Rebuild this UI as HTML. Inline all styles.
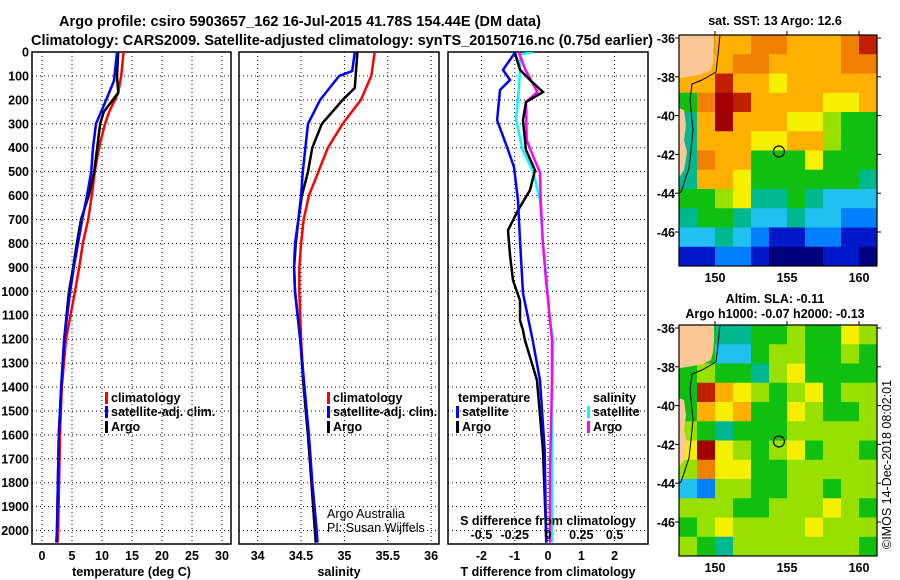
<!DOCTYPE html>
<html><head><meta charset="utf-8"><style>
body{margin:0;background:#fff;}
svg{display:block;font-family:"Liberation Sans",sans-serif;}
.t{font-weight:bold;font-size:12.5px;}
</style></head><body>
<svg id="c" width="900" height="580" viewBox="0 0 900 580">
<text x="300" y="26" text-anchor="middle" font-size="14.5" font-weight="bold" textLength="482">Argo profile: csiro 5903657_162 16-Jul-2015 41.78S 154.44E (DM data)</text>
<text x="342" y="45" text-anchor="middle" font-size="14.5" font-weight="bold" textLength="622">Climatology: CARS2009. Satellite-adjusted climatology: synTS_20150716.nc (0.75d earlier)</text>
</svg>
<script>
// ---- data ----
const depthTicks=[0,100,200,300,400,500,600,700,800,900,1000,1100,1200,1300,1400,1500,1600,1700,1800,1900,2000];
const tempTicks=[0,5,10,15,20,25,30];
const salTicks=[34,34.5,35,35.5,36];
const diffTTicks=[-2,-1,0,1,2];
const diffSTickLabels=["-0.5","-0.25","0","0.25","0.5"];
const diffSTicks=[-0.5,-0.25,0,0.25,0.5];

const tClimDepth=[0,100,170,250,300,400,500,600,700,800,900,1000,1200,1400,1600,2000,2050];
const tClim=[13.6,13.2,12.7,11.2,10.5,9.5,8.8,8.3,7.7,6.8,6.2,5.5,4.0,3.3,3.0,2.7,2.6];
const tArgoDepth=[0,100,170,200,250,300,400,500,600,700,800,900,1000,1200,1400,1600,2000,2050];
const tArgo=[12.7,12.5,12.7,11.8,10.3,9.7,9.2,8.7,7.8,6.5,5.8,5.2,4.5,3.7,3.2,2.8,2.5,2.4];
const tSatDepth=[0,120,200,300,400,500,600,700,800,900,1000,1200,1400,1600,2000,2050];
const tSat=[12.5,12.0,10.7,9.0,8.5,8.2,7.5,6.7,6.0,5.3,4.7,3.7,3.2,2.8,2.5,2.4];

const sClimDepth=[0,100,200,300,400,500,600,700,800,900,1000,1200,1400,1600,1800,2000,2050];
const sClim=[35.35,35.31,35.19,34.98,34.81,34.70,34.59,34.53,34.50,34.48,34.48,34.50,34.53,34.58,34.62,34.66,34.67];
const sArgoDepth=[0,150,200,300,400,500,600,700,800,900,1000,1200,1400,1600,1800,2000,2050];
const sArgo=[35.15,35.12,34.98,34.74,34.63,34.58,34.51,34.47,34.44,34.42,34.43,34.49,34.53,34.58,34.62,34.66,34.67];
const sSatDepth=[0,80,100,200,300,400,500,600,700,800,900,1000,1200,1400,1600,1800,2000,2050];
const sSat=[35.12,35.09,34.94,34.72,34.58,34.55,34.52,34.50,34.47,34.43,34.42,34.43,34.49,34.54,34.59,34.63,34.68,34.69];

const dTSatDepth=[4,75,117,159,285,397,481,619,787,1008,1205,1372,1665,2000,2050];
const dTSat=[-1.0,-1.35,-1.14,-1.44,-1.53,-1.23,-1.02,-0.9,-0.84,-0.75,-0.46,-0.24,-0.1,-0.06,-0.05];
const dTArgoDepth=[0,75,117,167,209,285,410,494,577,661,745,849,954,1038,1121,1163,1205,1372,1665,2000,2050];
const dTArgo=[-1.0,-0.84,-0.54,-0.15,-0.66,-0.75,-0.66,-0.39,-0.54,-0.9,-1.2,-1.14,-1.05,-0.84,-0.84,-0.75,-0.69,-0.33,-0.15,-0.06,-0.05];
const dSArgoDepth=[0,75,167,209,368,452,502,619,787,954,1121,1205,1372,1750,2050];
const dSArgo=[-0.22,-0.17,-0.08,-0.165,-0.16,-0.1,-0.06,-0.055,-0.04,-0.015,0.015,0.03,0.03,0.015,0.015];
const dSSatDepth=[0,10,75,159,285,410,502,619,787,954,1121,1205,1372,2050];
const dSSat=[-0.11,-0.21,-0.21,-0.22,-0.24,-0.19,-0.11,-0.06,-0.04,-0.01,0.015,0.04,0.03,0.03];

// map grids (colour index 0..11), rows north->south, cols west->east
const sstGrid=[
[8,9,8,8,9,9,8,8,8,9,10],
[8,8,8,9,9,8,8,8,8,9,9],
[8,8,10,8,8,7,8,8,8,8,8],
[5,9,11,10,8,8,8,8,7,7,8],
[4,8,11,8,8,8,7,7,6,5,5],
[4,8,8,8,7,7,8,8,6,5,5],
[4,9,8,8,5,5,5,7,5,5,5],
[4,8,8,7,5,5,5,5,5,5,4],
[5,5,6,7,4,4,5,4,3,3,3],
[4,5,5,4,3,3,4,3,3,2,2],
[3,3,4,3,2,1,1,2,2,1,1],
[1,1,2,2,1,0,0,0,1,1,0]];
const slaGrid=[
[5,5,4,4,5,5,6,5,5,7,6],
[5,5,3,3,5,6,6,5,5,6,5],
[5,6,5,5,4,6,7,5,5,5,5],
[5,10,8,7,6,5,6,7,5,6,6],
[5,8,7,8,5,5,7,6,5,5,6],
[6,5,4,5,5,5,6,6,6,6,6],
[7,11,7,6,5,6,7,5,6,6,5],
[6,9,7,7,5,5,6,6,6,6,6],
[3,2,6,6,5,5,6,6,5,6,6],
[6,6,6,5,5,6,6,6,7,6,5],
[5,6,7,6,6,6,6,7,6,6,6],
[6,5,4,6,6,6,6,6,6,6,5]];
const palette=["#00007f","#0018c8","#0080ff","#20c0f0","#00b890","#10c010","#98e000","#f4f000","#ffb000","#f08000","#c02000","#a00000"];
const latTicks=[-36,-38,-40,-42,-44,-46];
const lonTicks=[150,155,160];

// ---- drawing ----
const svg=document.getElementById('c');
const NS='http://www.w3.org/2000/svg';
function mk(tag,attrs,parent){const e=document.createElementNS(NS,tag);for(const k in attrs)e.setAttribute(k,attrs[k]);(parent||svg).appendChild(e);return e;}
const Y0=52,Y1=544;
const yD=d=>Y0+d*0.2393;
const xT=v=>42+6*v;
const xS=v=>257.7+86.7*(v-34);
const xDT=v=>548+33.3*v;
const xDS=v=>548+133.2*v;

function panel(name,x0,x1,vTicks,xf,labels,title){
  const g=mk('g',{});
  
  
  depthTicks.forEach(d=>{const l=mk('line',{x1:x0,x2:x1,y1:yD(d),y2:yD(d),stroke:'#000','stroke-width':1,'stroke-dasharray':'1,3'},g);
    
    });
  vTicks.forEach((v,i)=>{const X=xf(v);
    const l=mk('line',{x1:X,x2:X,y1:Y0,y2:Y1,stroke:'#000','stroke-width':1,'stroke-dasharray':'1,3'},g);
    
    
    if(labels){const t=mk('text',{x:X,y:560,'text-anchor':'middle',class:'t'},g);t.textContent=labels[i];
      
      }
  });
  const r=mk('rect',{x:x0,y:Y0,width:x1-x0,height:Y1-Y0,fill:'none',stroke:'#000','stroke-width':1.5},g);
  
  
  const t=mk('text',{x:(x0+x1)/2,y:576,'text-anchor':'middle',class:'t'},g);t.textContent=title;
  
  
  return g;
}
function line(g,name,depths,vals,xf,color,w){
  const pts=depths.map((d,i)=>xf(vals[i]).toFixed(1)+','+yD(d).toFixed(1)).join(' ');
  const p=mk('polyline',{points:pts,fill:'none',stroke:color,'stroke-width':w||2.5},g);
  
  
}
function clip(id,x0,x1){const c=mk('clipPath',{id:id});mk('rect',{x:x0,y:Y0,width:x1-x0,height:Y1-Y0},c);}
clip('c1',32,231);clip('c2',239,439);clip('c3',448,648);

depthTicks.forEach(d=>{const t=mk('text',{x:29,y:yD(d)+4.5,'text-anchor':'end',class:'t'});t.textContent=d;
  
  });

const g1=panel('temperature-panel',32,231,tempTicks,xT,tempTicks.map(String),'temperature (deg C)');
const l1=mk('g',{'clip-path':'url(#c1)'},g1);
line(l1,'temperature-climatology-line',tClimDepth,tClim,xT,'#f00');
line(l1,'temperature-argo-line',tArgoDepth,tArgo,xT,'#000');
line(l1,'temperature-satellite-line',tSatDepth,tSat,xT,'#00f');

const g2=panel('salinity-panel',239,439,salTicks,xS,salTicks.map(String),'salinity');
const l2=mk('g',{'clip-path':'url(#c2)'},g2);
line(l2,'salinity-climatology-line',sClimDepth,sClim,xS,'#f00');
line(l2,'salinity-argo-line',sArgoDepth,sArgo,xS,'#000');
line(l2,'salinity-satellite-line',sSatDepth,sSat,xS,'#00f');

const g3=panel('difference-panel',448,648,diffTTicks,xDT,diffTTicks.map(String),'T difference from climatology');
const l3=mk('g',{'clip-path':'url(#c3)'},g3);
line(l3,'s-diff-satellite-line',dSSatDepth,dSSat,xDS,'#0ff');
line(l3,'s-diff-argo-line',dSArgoDepth,dSArgo,xDS,'#f0f');
line(l3,'t-diff-argo-line',dTArgoDepth,dTArgo,xDT,'#000');
line(l3,'t-diff-satellite-line',dTSatDepth,dTSat,xDT,'#00f');
diffSTicks.forEach((v,i)=>{const t=mk('text',{x:xDS(v),y:539,'text-anchor':'middle',class:'t'},g3);t.textContent=diffSTickLabels[i];
  
  });
{const t=mk('text',{x:548,y:525,'text-anchor':'middle',class:'t'},g3);t.textContent='S difference from climatology';
 
 }

function legend(g,x,y,color,label){
  mk('rect',{x:x,y:y-10,width:3,height:12,fill:color},g);
  const t=mk('text',{x:x+6,y:y,class:'t'},g);t.textContent=label;
  
  
}
legend(g1,105,402,'#f00','climatology');legend(g1,105,416,'#00f','satellite-adj. clim.');legend(g1,105,431,'#000','Argo');
legend(g2,327,402,'#f00','climatology');legend(g2,327,416,'#00f','satellite-adj. clim.');legend(g2,327,431,'#000','Argo');
{const t=mk('text',{x:458,y:402,class:'t'},g3);t.textContent='temperature';}
legend(g3,456,416,'#00f','satellite');legend(g3,456,431,'#000','Argo');
{const t=mk('text',{x:593,y:402,class:'t'},g3);t.textContent='salinity';}
legend(g3,587,416,'#0ff','satellite');legend(g3,587,431,'#f0f','Argo');
{const t=mk('text',{x:327,y:518,'font-size':12.5},g2);t.textContent='Argo Australia';
 const u=mk('text',{x:327,y:532,'font-size':12.5},g2);u.textContent='PI: Susan Wijffels';}

// maps
const MX0=679,MX1=877;
const xLon=l=>715+14.4*(l-150);
function map(name,yOff,grid,titles){
  const g=mk('g',{});
  
  
  const my0=35+yOff,my1=266+yOff;
  const yLat=l=>38+yOff+19.4*(-36-l);
  const rows=grid.length,cols=grid[0].length,cw=(MX1-MX0)/cols,ch=(my1-my0)/rows;
  grid.forEach((row,r)=>row.forEach((v,c)=>{
    const cell=mk('rect',{x:MX0+c*cw,y:my0+r*ch,width:cw+0.5,height:ch+0.5,fill:palette[v]},g);
    
    
  }));
  const land=mk('polygon',{points:[[679,35],[714,35],[714,50],[713,62],[711,70],[703,74],[693,76],[680,78],[679,78]].map(p=>p[0]+','+(p[1]+yOff)).join(' '),fill:'#fcc896'},g);
  
  
  const tas=mk('polygon',{points:[[679,108],[684,110],[686,125],[684,140],[687,152],[684,170],[679,178]].map(p=>p[0]+','+(p[1]+yOff)).join(' '),fill:'#fcc896'},g);
  
  
  const coast=mk('polyline',{points:[[720,35],[718,55],[716,72],[702,80],[692,84],[690,100],[693,130],[691,150],[689,168],[681,192],[679,193]].map(p=>p[0]+','+(p[1]+yOff)).join(' '),fill:'none',stroke:'#000','stroke-width':1},g);
  
  
  const ci=mk('circle',{cx:xLon(154.44),cy:yLat(-41.85),r:5.5,fill:'none',stroke:'#000','stroke-width':1.2},g);
  
  
  const fr=mk('rect',{x:MX0,y:my0,width:MX1-MX0,height:my1-my0,fill:'none',stroke:'#000','stroke-width':1.2},g);
  
  
  latTicks.forEach(l=>{const Y=yLat(l);
    mk('line',{x1:MX1,x2:MX1+4,y1:Y,y2:Y,stroke:'#000'},g);
    mk('line',{x1:MX0,x2:MX0-4,y1:Y,y2:Y,stroke:'#000'},g);
    const t=mk('text',{x:675,y:Y+5,'text-anchor':'end',class:'t'},g);t.textContent=l;
    
    });
  lonTicks.forEach(l=>{const X=xLon(l);
    mk('line',{x1:X,x2:X,y1:my0,y2:my0-4,stroke:'#000'},g);
    const t=mk('text',{x:X,y:my1+16,'text-anchor':'middle',class:'t'},g);t.textContent=l;
    
    });
  titles.forEach((s,i)=>{const t=mk('text',{x:775,y:titles.length==1?25:(303+i*15),'text-anchor':'middle',class:'t'},g);t.textContent=s;
    
    });
}
map('sst-map',0,sstGrid,['sat. SST: 13 Argo: 12.6']);
map('sla-map',290,slaGrid,['Altim. SLA: -0.11','Argo h1000: -0.07 h2000: -0.13']);
{const t=mk('text',{x:0,y:0,'font-size':12.5,transform:'translate(891,549) rotate(-90)'});t.textContent='©IMOS 14-Dec-2018 08:02:01';
 
 }
</script>
</body></html>
